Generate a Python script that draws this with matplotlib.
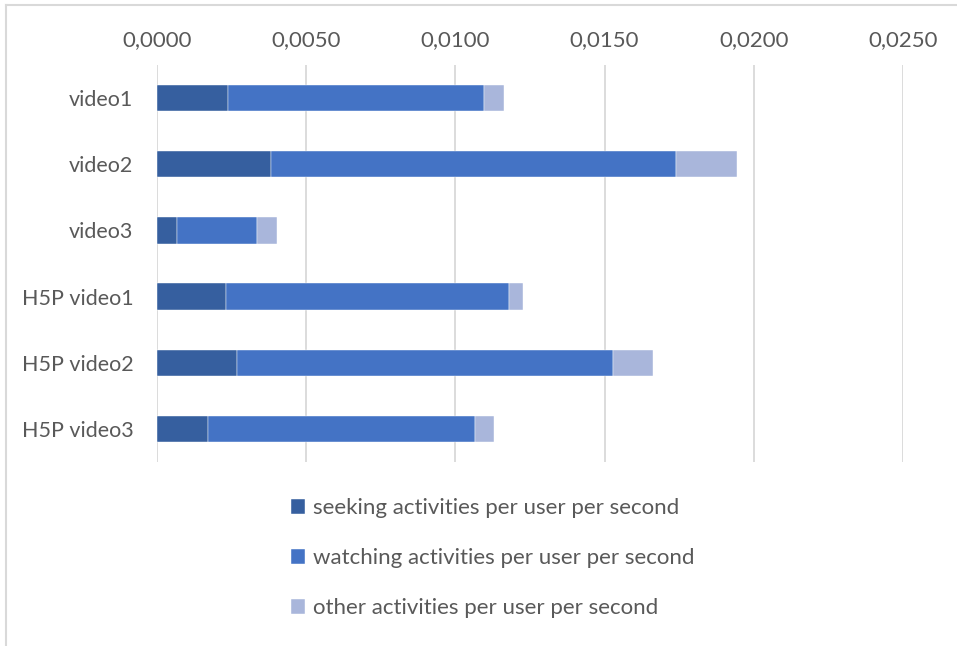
import numpy as np
import matplotlib.pyplot as plt
from matplotlib.lines import Line2D

videos = ['video1', 'video2', 'video3', 'H5P video1', 'H5P video2', 'H5P video3']
seeking = [0.00237, 0.00383, 0.00068, 0.00230, 0.00267, 0.00170]
watching = [0.00859, 0.01357, 0.00267, 0.00950, 0.01260, 0.00895]
other = [0.00067, 0.00205, 0.00067, 0.00045, 0.00136, 0.00066]

labels = ['seeking activities per user per second',
          'watching activities per user per second',
          'other activities per user per second']
colors = ['#365F9F', '#4473C5', '#A9B6DB']
ticks = [0.0, 0.005, 0.010, 0.015, 0.020, 0.025]

plt.rcParams['font.family'] = ['Lato', 'DejaVu Sans']
TEXT = '#595959'

fig = plt.figure(figsize=(9.57, 6.46), dpi=100)
ax = fig.add_axes([157 / 957, 1 - 462 / 646, 746 / 957, 397 / 646])

y = np.arange(len(videos))
left = np.zeros(len(videos))
for vals, lab, col in zip([seeking, watching, other], labels, colors):
    ax.barh(y, vals, left=left, height=0.4, color=col, label=lab,
            edgecolor='white', linewidth=0.3, zorder=3)
    left = left + np.array(vals)

ax.set_xlim(0, 0.025)
ax.set_ylim(len(videos) - 0.5, -0.5)
ax.set_yticks(y)
ax.set_yticklabels(videos, fontsize=15.5)
ax.set_xticks(ticks)
ax.set_xticklabels([f'{t:.4f}'.replace('.', ',') for t in ticks])
ax.xaxis.tick_top()
ax.tick_params(axis='x', length=0, labelsize=16, colors=TEXT, pad=11)
ax.tick_params(axis='y', length=0, colors=TEXT, pad=17)
ax.grid(axis='x', color='#D9D9D9', linewidth=1.3, zorder=0)
for s in ax.spines.values():
    s.set_visible(False)

leg = fig.legend(loc='upper left', bbox_to_anchor=(271 / 957, 1 - 478 / 646),
                 frameon=False, fontsize=16, labelcolor=TEXT,
                 handlelength=0.65, handleheight=0.65, handletextpad=0.35,
                 labelspacing=1.35)

# outer frame: only the top and left edges fall inside the image
fig.add_artist(Line2D([6 / 957, 6 / 957], [0, 1 - 5 / 646], transform=fig.transFigure,
                      color='#D9D9D9', linewidth=1.5))
fig.add_artist(Line2D([6 / 957, 1], [1 - 5 / 646, 1 - 5 / 646], transform=fig.transFigure,
                      color='#D9D9D9', linewidth=1.5))

fig.savefig('out.png', dpi=100)
